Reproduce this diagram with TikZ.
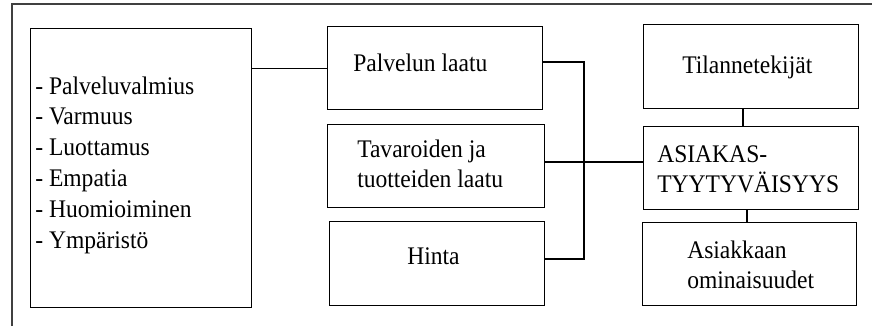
\documentclass[tikz,border=0pt]{standalone}
\usepackage{fontspec}
\setmainfont{Liberation Serif}[FakeStretch=0.93]
\begin{document}
\begin{tikzpicture}[x=0.75pt,y=-0.75pt,
  box/.style={draw, line width=1pt, inner sep=0pt, anchor=north west},
  frame/.style={draw=black!75, line width=0.9pt},
  wire/.style={draw, line width=1pt},
  lbl/.style={inner sep=0pt, anchor=base west, align=left,
    font=\fontsize{19pt}{22.3pt}\selectfont}]
\useasboundingbox (0,0) rectangle (872,326);
% outer frame (left and top edges only)
\coordinate (fa) at (12,326);
\coordinate (fb) at (12,4);
\coordinate (fc) at (872,4);
\draw[frame] (fa) -- (fb) -- (fc);
% boxes
\node[box, minimum width=165.75pt, minimum height=209.25pt] (L) at (30,28) {};
\node[box, minimum width=161.25pt, minimum height=62.25pt] (P) at (327,26) {};
\node[box, minimum width=162.75pt, minimum height=62.25pt] (T) at (327,124) {};
\node[box, minimum width=161.25pt, minimum height=63pt] (H) at (329,221) {};
\node[box, minimum width=161.25pt, minimum height=63pt] (Ti) at (643,24) {};
\node[box, minimum width=161.25pt, minimum height=62.25pt] (A) at (643,126) {};
\node[box, minimum width=160.5pt, minimum height=62.25pt] (O) at (642,222) {};
% texts (base anchor = baseline of last line)
\node[lbl, font=\fontsize{19pt}{23.1pt}\selectfont] (tL) at (35,248) {- Palveluvalmius\\- Varmuus\\- Luottamus\\- Empatia\\- Huomioiminen\\- Ympäristö};
\node[lbl] (tP) at (353,71) {Palvelun laatu};
\node[lbl] (tT) at (357,187) {Tavaroiden ja\\tuotteiden laatu};
\node[lbl] (tH) at (407,264) {Hinta};
\node[lbl] (tTi) at (682,73) {Tilannetekijät};
\node[lbl] (tA) at (657,192) {ASIAKAS-\\TYYTYVÄISYYS};
\node[lbl] (tO) at (687,288) {Asiakkaan\\ominaisuudet};
% connectors
\draw[wire] (P.west) -- (P.west -| L.east);
\coordinate (j1) at (584,62);
\coordinate (j2) at (584,259);
\draw[wire] (j1 -| P.east) -- (j1) -- (j2) -- (j2 -| H.east);
\coordinate (m) at (600,162);
\draw[wire] (m -| T.east) -- (m -| A.west);
\coordinate (v1) at (743,0);
\draw[wire] (v1 |- Ti.south) -- (v1 |- A.north);
\coordinate (v2) at (747,0);
\draw[wire] (v2 |- A.south) -- (v2 |- O.north);
\end{tikzpicture}
\end{document}
